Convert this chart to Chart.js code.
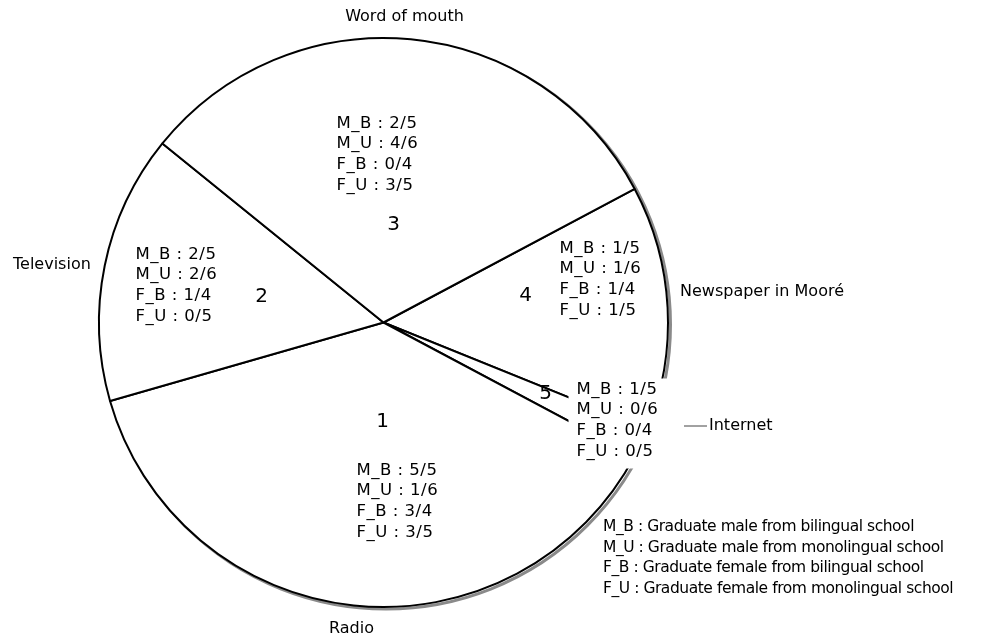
<!DOCTYPE html>
<html>
<head>
<meta charset="utf-8">
<script src="https://cdn.jsdelivr.net/npm/chart.js@4.4.1/dist/chart.umd.min.js"></script>
<style>
html, body { margin: 0; padding: 0; background: #fff; }
#wrap { width: 997px; height: 638px; position: relative; }
</style>
</head>
<body>
<div id="wrap"><canvas id="pie"></canvas></div>
<script>
// slices in drawing order (clockwise, starting right of the top-right line)
const channels = ['Newspaper in Mooré', 'Internet', 'Radio', 'Television', 'Word of mouth'];
const sliceNumbers = ['4', '5', '1', '2', '3'];
const sliceSizes = [50, 6, 136, 55, 113];

const groups = ['M_B', 'M_U', 'F_B', 'F_U'];
const newspaperScores = ['1/5', '1/6', '1/4', '1/5'];
const internetScores = ['1/5', '0/6', '0/4', '0/5'];
const radioScores = ['5/5', '1/6', '3/4', '3/5'];
const televisionScores = ['2/5', '2/6', '1/4', '0/5'];
const wordOfMouthScores = ['2/5', '4/6', '0/4', '3/5'];
const groupNames = [
    'Graduate male from bilingual school',
    'Graduate male from monolingual school',
    'Graduate female from bilingual school',
    'Graduate female from monolingual school'
];

const allScores = [newspaperScores, internetScores, radioScores, televisionScores, wordOfMouthScores];

const FONT = '"DejaVu Sans", Verdana, sans-serif';
const LINE = 20.7;

// text placement, offsets from the pie centre
const blockPos = [[176, -74], [193, 67], [-27, 148], [-248, -68], [-47, -199]];
const numberPos = [[142, -27], [162, 71], [-1, 99], [-122, -26], [10, -98]];

const shadowPlugin = {
    id: 'shadow',
    beforeDatasetsDraw(chart) {
        const arc = chart.getDatasetMeta(0).data[0];
        const ctx = chart.ctx;
        ctx.save();
        ctx.strokeStyle = '#8a8a8a';
        ctx.lineWidth = 3;
        ctx.beginPath();
        ctx.arc(arc.x + 2.5, arc.y + 2, arc.outerRadius, 0, Math.PI * 2);
        ctx.stroke();
        ctx.restore();
    }
};

const textPlugin = {
    id: 'texts',
    afterDatasetsDraw(chart) {
        const arc = chart.getDatasetMeta(0).data[0];
        const cx = arc.x, cy = arc.y, r = arc.outerRadius;
        const ctx = chart.ctx;
        ctx.save();
        ctx.textBaseline = 'middle';

        // white box behind the Internet block
        const ib = blockPos[1];
        ctx.fillStyle = '#fff';
        ctx.fillRect(cx + ib[0] - 8, cy + ib[1] - 11, 112, 90);
        ctx.fillStyle = '#000';

        ctx.font = '16.5px ' + FONT;
        ctx.letterSpacing = '0.5px';
        ctx.textAlign = 'left';
        allScores.forEach((scores, i) => {
            const [dx, dy] = blockPos[i];
            scores.forEach((s, j) => {
                ctx.fillText(groups[j] + ' : ' + s, cx + dx, cy + dy + j * LINE);
            });
        });
        ctx.letterSpacing = '0px';

        ctx.font = '20px ' + FONT;
        ctx.textAlign = 'center';
        sliceNumbers.forEach((n, i) => {
            ctx.fillText(n, cx + numberPos[i][0], cy + numberPos[i][1]);
        });

        // outside labels
        ctx.font = '16px ' + FONT;
        ctx.textAlign = 'center';
        ctx.fillText(channels[4], cx + 21, cy - r - 21);
        ctx.fillText(channels[2], cx - 32, cy + r + 22);
        ctx.textAlign = 'left';
        ctx.fillText(channels[3], 13, cy - 58);
        ctx.fillText(channels[0], cx + r + 12, cy - 31);
        ctx.fillText(channels[1], cx + r + 41, cy + 103);
        ctx.strokeStyle = '#444';
        ctx.lineWidth = 1;
        ctx.beginPath();
        ctx.moveTo(cx + r + 16, cy + 103.5);
        ctx.lineTo(cx + r + 39, cy + 103.5);
        ctx.stroke();

        // legend
        ctx.font = '15.5px ' + FONT;
        ctx.letterSpacing = '-0.45px';
        groups.forEach((g, j) => {
            ctx.fillText(g + ' : ' + groupNames[j], 603, 527 + j * LINE);
        });
        ctx.restore();
    }
};

new Chart(document.getElementById('pie'), {
    type: 'pie',
    data: {
        labels: channels,
        datasets: [{
            data: sliceSizes,
            backgroundColor: '#fff',
            borderColor: '#000',
            borderWidth: 2,
            hoverOffset: 0
        }]
    },
    options: {
        responsive: true,
        maintainAspectRatio: false,
        animation: false,
        rotation: 62,
        layout: { padding: { left: 98, right: 328, top: 37, bottom: 30 } },
        plugins: {
            legend: { display: false },
            tooltip: { enabled: false }
        }
    },
    plugins: [shadowPlugin, textPlugin]
});
</script>
</body>
</html>
